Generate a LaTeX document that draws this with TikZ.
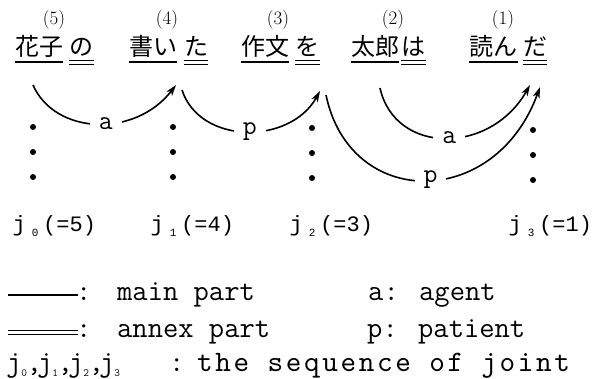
\documentclass[tikz,border=0pt]{standalone}
\usepackage{fontspec}
\usetikzlibrary{arrows.meta}
\newfontfamily\jpfont{Noto Sans CJK JP}
\newfontfamily\monofont{Liberation Mono}
\newfontfamily\ttwide{lmmono10-regular.otf}[LetterSpace=9]
\newcommand\jsubd[1]{\raisebox{-5pt}{\fontsize{11}{11}\selectfont #1}}
\newcommand\jlabel[2]{\makebox[14pt]{j}\hspace{4pt}\makebox[10pt]{\jsubd{#1}}\hspace{3pt}(=#2)}
\newcommand\jgroup[2]{\makebox[11pt]{j}\makebox[10pt]{\jsubd{#1}}\makebox[10pt]{#2}}
\begin{document}
\begin{tikzpicture}[x=1pt,y=-1pt,
  word/.style={inner sep=0pt,anchor=base,font=\jpfont\fontsize{24}{24}\selectfont},
  num/.style={inner sep=0pt,font=\fontsize{19}{19}\selectfont},
  rel/.style={line width=1.6pt,-{Stealth[length=11pt,width=7pt,inset=3pt]}},
  lab/.style={fill=white,inner xsep=9pt,inner ysep=2pt,font=\ttfamily\fontsize{27}{27}\selectfont},
  jlab/.style={inner sep=0pt,anchor=base west,font=\monofont\fontsize{22}{22}\selectfont},
  leg/.style={inner sep=0pt,anchor=base west,font=\ttfamily\fontsize{29.7}{29.7}\selectfont},
  legwide/.style={inner sep=0pt,anchor=base west,font=\ttwide\fontsize{29.7}{29.7}\selectfont},
  dotc/.style={fill=black},
  uline/.style={line width=1.2pt},
  lline/.style={line width=1.2pt}]
\useasboundingbox (0,0) rectangle (599,378);
% numbers
\node[num] (n5) at (54,20) {(5)};
\node[num] (n4) at (167,20) {(4)};
\node[num] (n3) at (278,20) {(3)};
\node[num] (n2) at (393,20) {(2)};
\node[num] (n1) at (503,20) {(1)};
% words
\node[word] (w5m) at (39,55.5) {花子};
\node[word] (w5a) at (81.5,55.5) {の};
\node[word] (w4m) at (153,55.5) {書い};
\node[word] (w4a) at (196,55.5) {た};
\node[word] (w3m) at (265,55.5) {作文};
\node[word] (w3a) at (307.5,55.5) {を};
\node[word] (w2m) at (375,55.5) {太郎};
\node[word] (w2a) at (413.5,55.5) {は};
\node[word] (w1m) at (493.5,55.5) {読ん};
\node[word] (w1a) at (535,55.5) {だ};
% underlines
\foreach \w in {w5m,w4m,w3m,w2m,w1m}{
  \draw[uline] (\w.west |- 0,62) -- (\w.east |- 0,62);}
\foreach \w in {w5a,w4a,w3a,w2a,w1a}{
  \draw[uline] (\w.west |- 0,60.5) -- (\w.east |- 0,60.5);
  \draw[uline] (\w.west |- 0,64.5) -- (\w.east |- 0,64.5);}
% arc end points
\coordinate (s1) at (33,85);
\coordinate (e1) at (176,85);
\coordinate (s2) at (182,90);
\coordinate (e2) at (320,91);
\coordinate (s3) at (326,95);
\coordinate (e3) at (540,87);
\coordinate (s4) at (380,88);
\coordinate (e4) at (530,85);
\draw[rel] (s1) .. controls (55,135) and (135,138) .. (e1) node[lab,pos=0.55] (la1) {a};
\draw[rel] (s2) .. controls (200,145) and (290,145) .. (e2) node[lab,pos=0.52] (lp1) {p};
\draw[rel] (s3) .. controls (350,210) and (495,210) .. (e3) node[lab,pos=0.52] (lp2) {p};
\draw[rel] (s4) .. controls (395,155) and (490,155) .. (e4) node[lab,pos=0.52] (la2) {a};
% dots
\foreach \x/\o in {33/0,173/0,312/1,533/3}{
  \foreach \y in {127,152,177}{
    \fill[dotc] (\x,\y+\o) circle (3);}}
% joint labels
\node[jlab] (j0) at (12,231) {\jlabel{0}{5}};
\node[jlab] (j1) at (150,231) {\jlabel{1}{4}};
\node[jlab] (j2) at (289,231) {\jlabel{2}{3}};
\node[jlab] (j3) at (508,231) {\jlabel{3}{1}};
% legend
\draw[lline] (8,295) -- (78,295);
\node[leg] (c1) at (76,300) {:};
\node[leg] (m1) at (117,300) {main part};
\node[leg] (a1) at (368,300) {a: agent};
\draw[lline] (8,330.5) -- (78,330.5);
\draw[lline] (8,334.5) -- (78,334.5);
\node[leg] (c2) at (76,337) {:};
\node[leg] (m2) at (117,337) {annex part};
\node[leg] (a2) at (367,337) {p: patient};
\node[leg] (r3a) at (8,371) {\jgroup{0}{,}\jgroup{1}{,}\jgroup{2}{,}\jgroup{3}{}};
\node[leg] (r3b) at (169,371) {:};
\node[legwide] (r3c) at (197,371) {the sequence of joint};
\end{tikzpicture}
\end{document}
